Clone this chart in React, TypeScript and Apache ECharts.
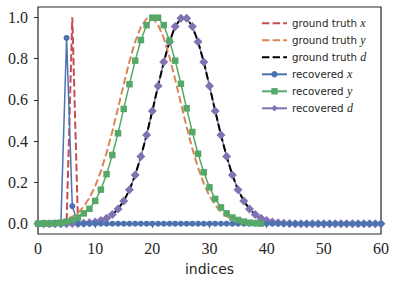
import React, { useEffect, useRef } from "react";
import * as echarts from "echarts";

// ---- data ----
const gtX = [
  0, 0, 0, 0, 0, 0, 1.0, 0, 0, 0, 0, 0, 0, 0, 0, 0, 0, 0, 0, 0,
  0, 0, 0, 0, 0, 0, 0, 0, 0, 0, 0, 0, 0, 0, 0, 0, 0, 0, 0, 0,
  0, 0, 0, 0, 0, 0, 0, 0, 0, 0, 0, 0, 0, 0, 0, 0, 0, 0, 0, 0, 0,
];
const recX = [
  0, 0, 0, 0, 0, 0.9, 0.085, 0, 0, 0, 0, 0, 0, 0, 0, 0, 0, 0, 0, 0,
  0, 0, 0, 0, 0, 0, 0, 0, 0, 0, 0, 0, 0, 0, 0, 0, 0, 0, 0, 0,
  0, 0, 0, 0, 0, 0, 0, 0, 0, 0, 0, 0, 0, 0, 0, 0, 0, 0, 0, 0, 0,
];
const gtY = [
  0.001, 0.002, 0.003, 0.006, 0.011, 0.019, 0.033, 0.053, 0.083, 0.125,
  0.182, 0.255, 0.344, 0.447, 0.56, 0.676, 0.787, 0.882, 0.954, 0.993,
  0.997, 0.964, 0.899, 0.808, 0.699, 0.583, 0.469, 0.363, 0.271, 0.195,
  0.135, 0.09, 0.058, 0.036, 0.022, 0.013, 0.007, 0.004, 0.002, 0.001,
];
const recY = [
  0.0, 0.001, 0.001, 0.003, 0.005, 0.01, 0.018, 0.03, 0.05, 0.072,
  0.11, 0.165, 0.24, 0.333, 0.438, 0.556, 0.676, 0.79, 0.89, 0.962,
  0.998, 0.998, 0.962, 0.887, 0.79, 0.678, 0.559, 0.444, 0.339, 0.249,
  0.176, 0.12, 0.079, 0.05, 0.03, 0.018, 0.01, 0.005, 0.003, 0.001,
];
const gtD = [
  0, 0, 0, 0, 0, 0, 0.001, 0.001, 0.002, 0.004,
  0.008, 0.015, 0.026, 0.044, 0.071, 0.11, 0.164, 0.236, 0.325, 0.43,
  0.546, 0.667, 0.783, 0.882, 0.956, 0.995, 0.995, 0.956, 0.882, 0.783,
  0.667, 0.546, 0.43, 0.325, 0.236, 0.164, 0.11, 0.071, 0.044, 0.026,
  0.015, 0.008, 0.004, 0.002, 0.001, 0, 0, 0, 0, 0,
  0, 0, 0, 0, 0, 0, 0, 0, 0, 0, 0,
];
const recD = [
  0, 0, 0, 0, 0, 0, 0.001, 0.001, 0.002, 0.004,
  0.008, 0.015, 0.026, 0.044, 0.071, 0.11, 0.164, 0.236, 0.325, 0.43,
  0.546, 0.667, 0.783, 0.882, 0.956, 0.995, 0.995, 0.956, 0.882, 0.783,
  0.667, 0.546, 0.43, 0.325, 0.236, 0.164, 0.11, 0.071, 0.044, 0.026,
  0.015, 0.008, 0.004, 0.002, 0.001, 0, 0, 0, 0, 0,
  0, 0, 0, 0, 0, 0, 0, 0, 0, 0, 0,
];
const xTicks = [0, 10, 20, 30, 40, 50, 60];
const yTicks = [0, 0.2, 0.4, 0.6, 0.8, 1.0];
const legendOrder = ["gt_x", "gt_y", "gt_d", "rec_x", "rec_y", "rec_d"];
const legendLabels: Record<string, string> = {
  gt_x: "ground truth {m|x}",
  gt_y: "ground truth {m|y}",
  gt_d: "ground truth {m|d}",
  rec_x: "recovered {m|x}",
  rec_y: "recovered {m|y}",
  rec_d: "recovered {m|d}",
};

const C = {
  red: "#C44E52",
  orange: "#DD8452",
  black: "#000000",
  blue: "#4C72B0",
  green: "#55A868",
  purple: "#8172B3",
  text: "#262626",
};

const pairs = (arr: number[]) => arr.map((v, i) => [i, v]);
const DASH = [7.4, 3.2];

export default function App() {
  const ref = useRef<HTMLDivElement>(null);
  useEffect(() => {
    if (!ref.current) return;
    const chart = echarts.init(ref.current, null, { renderer: "svg" });
    const dashed = (name: string, data: number[], color: string) => ({
      name,
      type: "line",
      data: pairs(data),
      symbol: "circle",
      showSymbol: false,
      lineStyle: { color, width: 2, type: DASH },
      itemStyle: { color },
      emphasis: { disabled: true },
      silent: true,
    });
    const marked = (name: string, data: number[], color: string, symbol: string, size: number) => ({
      name,
      type: "line",
      data: pairs(data),
      symbol,
      symbolSize: size,
      showAllSymbol: true,
      lineStyle: { color, width: 1.5 },
      itemStyle: { color },
      emphasis: { disabled: true },
      silent: true,
    });
    chart.setOption({
      animation: false,
      backgroundColor: "#ffffff",
      grid: {
        left: 38,
        top: 7,
        width: 343,
        height: 227,
        show: true,
        borderColor: C.text,
        borderWidth: 1.2,
        backgroundColor: "transparent",
      },
      legend: {
        orient: "vertical",
        left: 261,
        top: 16.3,
        padding: 0,
        itemWidth: 25,
        itemHeight: 8,
        itemGap: 3,
        selectedMode: false,
        data: legendOrder.map((n) =>
          n.startsWith("gt") ? { name: n, itemStyle: { opacity: 0 } } : { name: n }
        ),
        formatter: (n: string) => legendLabels[n],
        textStyle: {
          fontFamily: "DejaVu Sans",
          fontSize: 10.3,
          color: C.text,
          lineHeight: 14,
          rich: {
            m: {
              fontFamily: "Liberation Serif",
              fontStyle: "italic",
              fontSize: 12,
              color: C.text,
              lineHeight: 14,
            },
          },
        },
      },
      xAxis: {
        type: "value",
        min: xTicks[0],
        max: xTicks[xTicks.length - 1],
        interval: 10,
        axisLine: { show: false },
        axisTick: { show: true, length: 4, lineStyle: { color: C.text, width: 1 } },
        axisLabel: {
          fontFamily: "Liberation Serif",
          fontSize: 16,
          color: C.text,
          margin: 6,
        },
        splitLine: { show: false },
        name: "indices",
        nameLocation: "middle",
        nameGap: 28,
        nameTextStyle: { fontFamily: "DejaVu Sans", fontSize: 14, color: C.text },
      },
      yAxis: {
        type: "value",
        min: -0.05,
        max: 1.05,
        axisLine: { show: false },
        axisTick: {
          show: true,
          length: 4,
          customValues: yTicks,
          lineStyle: { color: C.text, width: 1 },
        },
        axisLabel: {
          customValues: yTicks,
          formatter: (v: number) => v.toFixed(1),
          fontFamily: "Liberation Serif",
          fontSize: 16,
          color: C.text,
          margin: 10,
        },
        splitLine: { show: false },
      },
      series: [
        marked("rec_d", recD, C.purple, "diamond", 9),
        dashed("gt_d", gtD, C.black),
        dashed("gt_x", gtX, C.red),
        marked("rec_x", recX, C.blue, "circle", 6),
        dashed("gt_y", gtY, C.orange),
        marked("rec_y", recY, C.green, "rect", 6.5),
      ],
    });
    return () => chart.dispose();
  }, []);
  return (
    <div
      ref={ref}
      style={{ position: "absolute", left: 0, top: 0, width: 397, height: 287, background: "#fff" }}
    />
  );
}
